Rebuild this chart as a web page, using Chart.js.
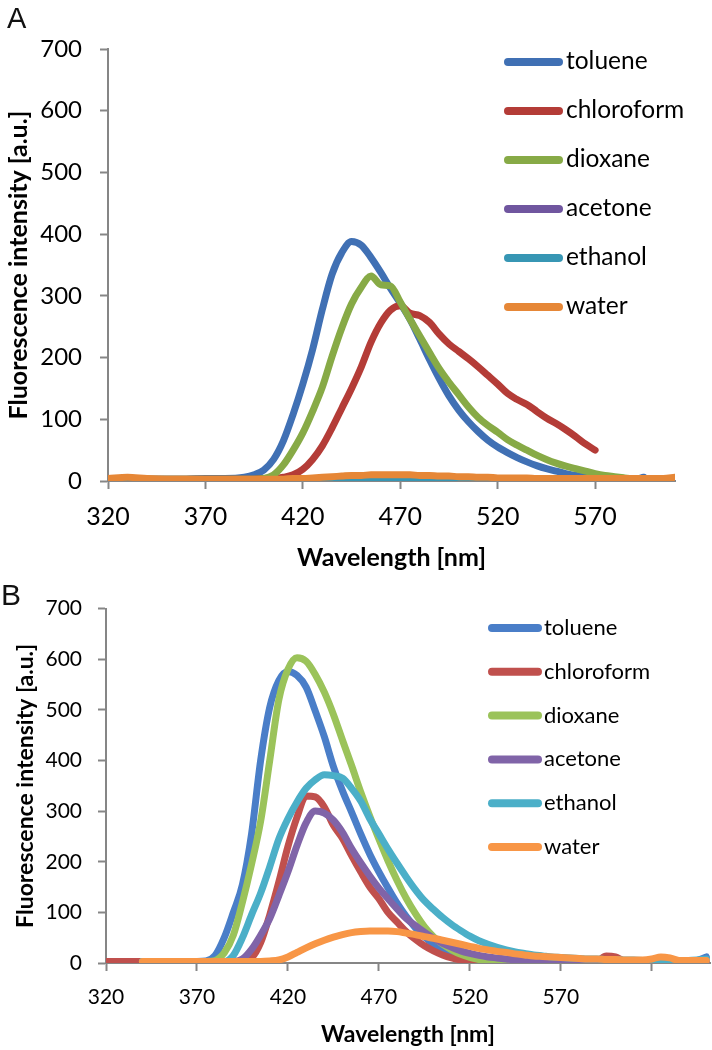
<!DOCTYPE html>
<html>
<head>
<meta charset="utf-8">
<script src="https://cdn.jsdelivr.net/npm/chart.js@4.4.1/dist/chart.umd.min.js"></script>
<style>
  html, body { margin: 0; padding: 0; background: #fff; }
  #page { position: relative; width: 712px; height: 1050px; overflow: hidden; }
  .panel { position: absolute; left: 0; width: 712px; }
  .tag { position: absolute; font-family: "Liberation Sans", Arial, sans-serif; line-height: 1; color: #111; }
</style>
</head>
<body>
<div id="page">
  <div class="panel" style="top:0;height:580px"><canvas id="chartA"></canvas></div>
  <div class="panel" style="top:580px;height:470px"><canvas id="chartB"></canvas></div>
  <div class="tag" style="left:7px;top:4px;font-size:29px">A</div>
  <div class="tag" style="left:1px;top:580px;font-size:30px">B</div>
</div>
<script>
// solvents, same order in both panels
const solvents = ['toluene', 'chloroform', 'dioxane', 'acetone', 'ethanol', 'water'];

// x tick labels
const xTicksA = [320, 370, 420, 470, 520, 570];
const xTickLabelsA = ['320', '370', '420', '470', '520', '570'];
const xTicksB = [320, 370, 420, 470, 520, 570, 620];
const xTickLabelsB = ['320', '370', '420', '470', '520', '570', ''];

// ---- panel A ----
const wavelengthA = [320, 330, 340, 350, 360, 370, 380, 390,
  395, 400, 405, 410, 415, 420, 425, 430, 435, 440,
  445, 450, 455, 460, 465, 470, 475, 480, 485, 490,
  495, 500, 505, 510, 515, 520, 525, 530, 535, 540,
  545, 550, 555, 560, 565, 570, 575, 580, 585, 590,
  595, 600, 605, 611];
const tolueneA = [3, 3, 3, 3, 3, 4, 4, 6,
  10, 18, 35, 65, 108, 157, 213, 278, 335, 370,
  388, 382, 362, 338, 312, 288, 262, 230, 197, 166,
  138, 115, 96, 80, 66, 55, 46, 38, 31, 25,
  20, 16, 12, 9, 7, 5, 4, 3, 3, 3,
  6, null, null, null];
const chloroformA = [3, 3, 3, 3, 3, 3, 3, 3,
  3, 4, 4, 6, 10, 19, 35, 57, 86, 118,
  150, 185, 225, 256, 277, 284, 272, 268, 257, 238,
  222, 210, 198, 185, 171, 157, 142, 132, 124, 113,
  102, 93, 83, 72, 60, 50, null, null, null, null,
  null, null, null, null];
const dioxaneA = [3, 3, 3, 3, 3, 3, 3, 3,
  3, 4, 10, 26, 50, 78, 113, 152, 202, 248,
  287, 314, 332, 318, 316, 290, 262, 235, 208, 182,
  160, 140, 120, 103, 90, 79, 67, 58, 50, 42,
  35, 29, 24, 20, 16, 12, 9, 7, 5, 3,
  null, null, null, null];
const acetoneA = [1, 1, 1, 1, 1, 1, 1, 1,
  1, 1, 1, 1, 1, 1, 1, 1, 1, 1,
  1, 1, 1, 1, 1, 1, 1, 1, 1, 1,
  1, 1, 1, 1, 1, 1, 1, 1, 1, 1,
  1, 1, 1, 1, 1, 1, 1, 1, 1, 1,
  null, null, null, null];
const ethanolA = [2, 1, 1, 1, 1, 1, 1, 1,
  1, 1, 1, 1, 1, 1, 1, 1, 1, 1,
  1, 1, 1, 1, 1, 1, 1, 1, 1, 1,
  1, 1, 1, 1, 1, 1, 1, 1, 1, 1,
  1, 1, 1, 1, 1, 1, 1, 3, 1, 1,
  null, null, null, null];
const waterA = [4, 6, 4, 3, 3, 3, 3, 3,
  3, 3, 3, 3, 4, 4, 5, 6, 7, 8,
  9, 9, 10, 10, 10, 10, 10, 9, 9, 8,
  8, 7, 7, 6, 6, 5, 5, 5, 5, 4,
  4, 4, 4, 4, 4, 4, 4, 4, 4, 4,
  4, 4, 4, 6];

// ---- panel B ----
const wavelengthB = [320, 330, 340, 350, 360, 370,
  375, 380, 385, 390, 395, 400, 405, 410, 415, 420,
  425, 430, 435, 440, 445, 450, 455, 460, 465, 470,
  475, 480, 485, 490, 495, 500, 505, 510, 515, 520,
  525, 530, 535, 540, 545, 550, 555, 560, 565, 570,
  575, 580, 585, 590, 595, 600, 605, 610, 615, 620,
  625, 630, 635, 640, 645, 650];
const tolueneB = [null, null, 3, 3, 3, 3,
  4, 15, 50, 100, 155, 255, 400, 505, 558, 576,
  568, 545, 498, 447, 388, 340, 298, 255, 215, 180,
  148, 118, 92, 70, 52, 37, 26, 17, 10, 6,
  3, 2, 2, 2, 2, 2, 2, 2, 2, 2,
  2, 2, 2, 2, 2, 2, 2, 2, 2, 2,
  2, 2, 2, 3, 5, 12];
const chloroformB = [3, 3, 3, 3, 3, 3,
  3, 3, 3, 3, 4, 10, 40, 95, 160, 230,
  288, 330, 328, 308, 272, 246, 212, 180, 150, 127,
  100, 81, 62, 47, 34, 24, 16, 10, 6, 4,
  3, 3, 3, 3, 3, 3, 3, 3, 3, 3,
  3, 3, 3, 4, 14, 12, 4, 3, 3, 3,
  3, 3, 3, 3, 3, 3];
const dioxaneB = [null, null, 3, 3, 3, 3,
  3, 5, 20, 55, 120, 195, 280, 400, 520, 580,
  603, 596, 570, 535, 491, 440, 390, 338, 290, 245,
  202, 163, 128, 98, 72, 52, 37, 26, 17, 11,
  7, 4, 3, 2, 2, 2, 2, 2, 2, 2,
  2, 2, 2, 2, 2, 2, 2, 2, 2, 2,
  2, 2, 2, 2, 2, 2];
const acetoneB = [null, null, 3, 3, 3, 3,
  3, 3, 3, 3, 8, 27, 55, 88, 133, 180,
  232, 277, 300, 296, 282, 258, 226, 198, 172, 148,
  127, 107, 88, 74, 61, 49, 39, 31, 24, 19,
  15, 12, 10, 8, 6, 5, 4, 3, 3, 3,
  2, 2, 2, 2, 2, 2, 2, 2, 2, 2,
  2, 2, 2, 2, 2, 2];
const ethanolB = [null, null, 3, 3, 3, 3,
  3, 3, 3, 15, 50, 95, 138, 190, 245, 285,
  318, 345, 362, 372, 370, 365, 345, 320, 285, 255,
  225, 197, 170, 145, 123, 106, 90, 76, 64, 53,
  44, 37, 31, 26, 22, 19, 16, 14, 12, 11,
  10, 9, 8, 8, 7, 7, 6, 6, 5, 3,
  0, 3, 5, 5, 6, 8];
const waterB = [null, null, 3, 3, 3, 3,
  3, 3, 3, 3, 3, 3, 3, 4, 6, 12,
  21, 30, 38, 45, 51, 56, 60, 62, 63, 63,
  63, 62, 59, 56, 52, 49, 45, 41, 37, 33,
  29, 26, 23, 21, 18, 16, 14, 13, 12, 11,
  10, 9, 8, 8, 7, 7, 6, 6, 6, 8,
  12, 10, 5, 5, 5, 5];

const coloursA = ['#4070B4', '#B43C37', '#87AA46', '#70569F', '#3796B4', '#E68737'];
const coloursB = ['#4A7EC8', '#C0504D', '#9BC35A', '#8064A8', '#4BAFC8', '#F89646'];

Chart.defaults.font.family = 'Lato, "Open Sans", sans-serif';
Chart.defaults.color = '#000';

function points(xs, ys) {
  return xs.map((x, i) => ({ x: x, y: ys[i] })).filter(p => p.y !== null);
}

// legend drawn inside the plot, one row per series
const sideLegend = {
  id: 'sideLegend',
  afterDraw(chart, args, opts) {
    const ctx = chart.ctx;
    ctx.save();
    ctx.lineCap = 'round';
    ctx.lineWidth = 8;
    ctx.font = opts.size + 'px Lato';
    ctx.textBaseline = 'alphabetic';
    chart.data.datasets.forEach((ds, i) => {
      const y = opts.top + i * opts.gap;
      ctx.strokeStyle = ds.borderColor;
      ctx.beginPath();
      ctx.moveTo(opts.x0, y);
      ctx.lineTo(opts.x1, y);
      ctx.stroke();
      ctx.fillStyle = '#000';
      ctx.fillText(ds.label, opts.tx, y + opts.dy);
    });
    ctx.restore();
  }
};

function makeChart(id, cfg) {
  const datasets = cfg.series.map((ys, i) => ({
    label: solvents[i],
    data: points(cfg.wavelength, ys),
    borderColor: cfg.colours[i],
    borderWidth: 7,
    pointRadius: 0,
    cubicInterpolationMode: 'monotone',
    borderCapStyle: 'round',
    borderJoinStyle: 'round',
    order: 5 - i
  }));
  return new Chart(document.getElementById(id), {
    type: 'line',
    data: { datasets: datasets },
    plugins: [sideLegend],
    options: {
      responsive: true,
      maintainAspectRatio: false,
      animation: false,
      layout: { padding: cfg.padding },
      plugins: {
        legend: { display: false },
        tooltip: { enabled: false },
        sideLegend: cfg.legend
      },
      scales: {
        x: {
          type: 'linear',
          min: 320,
          max: cfg.xMax,
          afterBuildTicks: (scale) => { scale.ticks = cfg.xTicks.map(v => ({ value: v })); },
          afterFit: (scale) => { scale.height = cfg.xHeight; },
          ticks: {
            autoSkip: false,
            maxRotation: 0,
            padding: cfg.xTickPad,
            font: { size: cfg.xTickSize },
            callback: (v, i) => cfg.xLabels[i]
          },
          grid: { drawOnChartArea: false, drawTicks: true, tickLength: 8, tickColor: '#868686', tickWidth: 2 },
          border: { display: true, color: '#868686', width: 2 },
          title: {
            display: true,
            text: 'Wavelength [nm]',
            font: { size: cfg.xTitleSize, weight: 'bold' },
            padding: { top: 0, bottom: cfg.xTitlePad }
          }
        },
        y: {
          min: 0,
          max: 700,
          afterFit: (scale) => { scale.width = cfg.yWidth; },
          ticks: { stepSize: 100, padding: cfg.yTickPad, font: { size: cfg.yTickSize } },
          grid: { drawOnChartArea: false, drawTicks: true, tickLength: 8, tickColor: '#868686', tickWidth: 2 },
          border: { display: true, color: '#868686', width: 2 },
          title: {
            display: true,
            text: 'Fluorescence intensity [a.u.]',
            font: { size: cfg.yTitleSize, weight: 'bold' },
            padding: { top: cfg.yTitlePad, bottom: 0 }
          }
        }
      }
    }
  });
}

makeChart('chartA', {
  wavelength: wavelengthA,
  series: [tolueneA, chloroformA, dioxaneA, acetoneA, ethanolA, waterA],
  colours: coloursA,
  xMax: 611,
  xTicks: xTicksA,
  xLabels: xTickLabelsA,
  padding: { left: 0, right: 37, top: 49, bottom: 0 },
  xHeight: 99, xTickPad: 13, xTickSize: 25, xTitleSize: 25, xTitlePad: 7,
  yWidth: 108, yTickPad: 18, yTickSize: 24, yTitleSize: 25, yTitlePad: 4,
  legend: { x0: 508, x1: 559, tx: 566, top: 62, gap: 49, size: 24.5, dy: 7 }
});

makeChart('chartB', {
  wavelength: wavelengthB,
  series: [tolueneB, chloroformB, dioxaneB, acetoneB, ethanolB, waterB],
  colours: coloursB,
  xMax: 652,
  xTicks: xTicksB,
  xLabels: xTickLabelsB,
  padding: { left: 0, right: 2, top: 22, bottom: 0 },
  xHeight: 87, xTickPad: 14, xTickSize: 21, xTitleSize: 23, xTitlePad: 2,
  yWidth: 106, yTickPad: 16, yTickSize: 21, yTitleSize: 23, yTitlePad: 12,
  legend: { x0: 492, x1: 538, tx: 544, top: 48, gap: 43.8, size: 22, dy: 7 }
});
</script>
</body>
</html>
